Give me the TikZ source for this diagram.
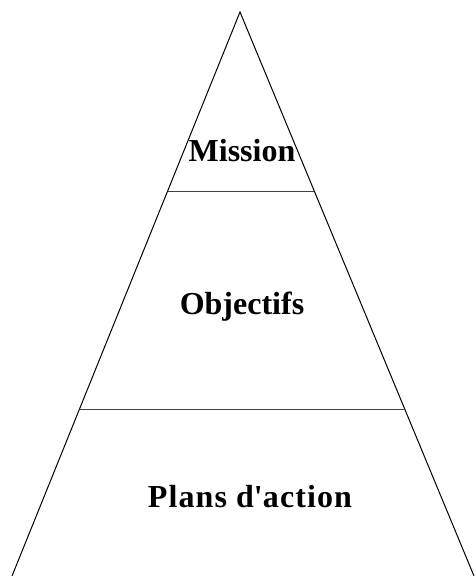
\documentclass[tikz,border=0pt]{standalone}
\usepackage{fontspec}
\setmainfont{Liberation Serif}
\usetikzlibrary{calc}
\begin{document}
\begin{tikzpicture}[x=1pt,y=-1pt,
  edge/.style={line width=1pt,black},
  divider/.style={line width=1pt,black!75},
  label/.style={font=\fontsize{32}{36}\selectfont\bfseries,anchor=base,inner sep=0pt}]
\useasboundingbox (0,0) rectangle (475,576);
\coordinate (apex) at (240,12);
\coordinate (bl) at (12,576);
\coordinate (br) at (474,576);
\draw[edge] (bl) -- (apex) -- (br);
\coordinate (l1) at ($(apex)!0.3174!(bl)$);
\coordinate (r1) at ($(apex)!0.3174!(br)$);
\coordinate (l2) at ($(apex)!0.7039!(bl)$);
\coordinate (r2) at ($(apex)!0.7039!(br)$);
\draw[divider] (l1) -- (r1);
\draw[divider] (l2) -- (r2);
\node[label] (mission) at (242,161) {Mission};
\node[label] (obj) at (242,314) {Objectifs};
\node[label] (plans) at (250,507) {\addfontfeature{LetterSpace=3.5}Plans d\textquotesingle action};
\end{tikzpicture}
\end{document}
